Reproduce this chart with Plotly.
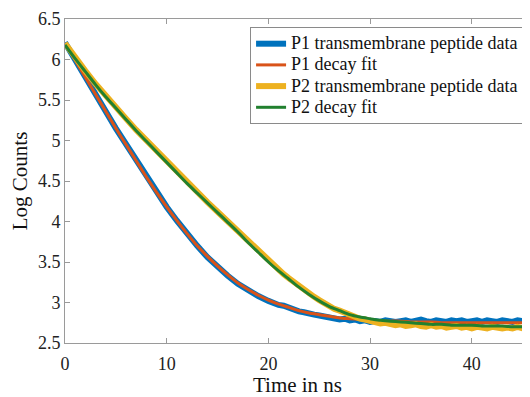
import plotly.graph_objects as go

# ---- data ----
fit_t = list(range(0, 47))
p1_fit = [6.20, 5.99, 5.78, 5.57, 5.36, 5.15, 4.95, 4.75, 4.55, 4.36,
          4.18, 4.01, 3.85, 3.70, 3.57, 3.45, 3.34, 3.24, 3.16, 3.09,
          3.03, 2.98, 2.94, 2.90, 2.87, 2.85, 2.83, 2.81, 2.80, 2.79,
          2.78, 2.77, 2.77, 2.77, 2.76, 2.76, 2.76, 2.75, 2.75, 2.75,
          2.75, 2.75, 2.75, 2.75, 2.75, 2.75, 2.75]
p2_fit = [6.18, 6.01, 5.85, 5.69, 5.54, 5.40, 5.26, 5.12, 4.99, 4.86,
          4.73, 4.60, 4.47, 4.35, 4.23, 4.11, 3.99, 3.87, 3.74, 3.62,
          3.50, 3.39, 3.29, 3.19, 3.10, 3.02, 2.95, 2.90, 2.85, 2.82,
          2.80, 2.78, 2.77, 2.76, 2.75, 2.74, 2.73, 2.73, 2.72, 2.72,
          2.72, 2.71, 2.71, 2.71, 2.70, 2.70, 2.70]

data_t = [0, 1, 2, 3, 4, 5, 6, 7, 8, 9, 10, 11, 12, 13, 14, 15, 16, 17, 18, 19, 20,
          20.5, 21, 21.5, 22, 22.5, 23, 23.5, 24, 24.5, 25, 25.5, 26, 26.5, 27, 27.5,
          28, 28.5, 29, 29.5, 30, 30.5, 31, 31.5, 32, 32.5, 33, 33.5, 34, 34.5, 35,
          35.5, 36, 36.5, 37, 37.5, 38, 38.5, 39, 39.5, 40, 40.5, 41, 41.5, 42, 42.5,
          43, 43.5, 44, 44.5, 45, 45.5, 46]
p1_data = [6.21, 5.99, 5.78, 5.57, 5.36, 5.15, 4.95, 4.75, 4.55, 4.36, 4.18,
           4.01, 3.85, 3.70, 3.56, 3.44, 3.33, 3.23, 3.15, 3.08, 3.02,
           2.99, 2.97, 2.96, 2.93, 2.92, 2.89, 2.88, 2.86, 2.85, 2.84, 2.83,
           2.81, 2.81, 2.79, 2.80, 2.78, 2.79, 2.77, 2.78, 2.76, 2.77, 2.76,
           2.78, 2.77, 2.76, 2.77, 2.78, 2.76, 2.77, 2.79, 2.77, 2.76, 2.78,
           2.77, 2.76, 2.78, 2.77, 2.78, 2.76, 2.77, 2.78, 2.76, 2.78, 2.77,
           2.76, 2.78, 2.77, 2.76, 2.78, 2.77, 2.76, 2.77]
p2_data = [6.20, 6.02, 5.86, 5.70, 5.55, 5.41, 5.27, 5.13, 5.00, 4.87, 4.74,
           4.61, 4.48, 4.36, 4.24, 4.12, 4.00, 3.88, 3.75, 3.63, 3.51,
           3.45, 3.40, 3.35, 3.30, 3.25, 3.20, 3.16, 3.11, 3.07, 3.03, 2.99,
           2.96, 2.92, 2.90, 2.87, 2.85, 2.83, 2.80, 2.79, 2.77, 2.76, 2.74,
           2.75, 2.73, 2.72, 2.73, 2.71, 2.72, 2.73, 2.71, 2.70, 2.72, 2.70,
           2.71, 2.69, 2.70, 2.71, 2.69, 2.70, 2.68, 2.70, 2.69, 2.68, 2.70,
           2.69, 2.68, 2.69, 2.68, 2.70, 2.68, 2.69, 2.68]

series_names = ["P1 transmembrane peptide data", "P1 decay fit",
                "P2 transmembrane peptide data", "P2 decay fit"]
x_tickvals = [0, 10, 20, 30, 40]
x_ticktext = ["0", "10", "20", "30", "40"]
y_tickvals = [2.5, 3, 3.5, 4, 4.5, 5, 5.5, 6, 6.5]
y_ticktext = ["2.5", "3", "3.5", "4", "4.5", "5", "5.5", "6", "6.5"]

# ---- styles ----
colors = ["#0072BD", "#D95319", "#EDB120", "#21802F"]
widths = [6, 3, 6, 3]
shapes = ["linear", "spline", "linear", "spline"]
FONT = "Liberation Serif, Times New Roman, serif"
AXC = "#9a9a9a"

fig = go.Figure()
xs = [data_t, fit_t, data_t, fit_t]
ys = [p1_data, p1_fit, p2_data, p2_fit]
for name, x, y, c, w, s in zip(series_names, xs, ys, colors, widths, shapes):
    fig.add_trace(go.Scatter(
        x=x, y=y, mode="lines",
        name='<span style="font-size:18px">' + name + '</span>',
        line=dict(color=c, width=w, shape=s, smoothing=0.6)))

# page body has an 8px default margin: figure is sized/offset to compensate
fig.update_layout(
    width=522, height=389,
    margin=dict(l=57, r=0, t=11, b=52),
    paper_bgcolor="white", plot_bgcolor="white",
    font=dict(family=FONT, color="#222222", size=18),
    showlegend=True,
    legend=dict(x=0.398, y=0.975, xanchor="left", yanchor="top",
                bgcolor="white", bordercolor="#8a8a8a", borderwidth=1,
                font=dict(family=FONT, size=14, color="#111111"),
                tracegroupgap=0, itemwidth=30),
    xaxis=dict(range=[0, 45.72], tickvals=x_tickvals, ticktext=x_ticktext,
               showgrid=False, zeroline=False, showline=True, linecolor=AXC,
               linewidth=1, mirror="ticks", ticks="inside", ticklen=5,
               tickcolor=AXC, tickfont=dict(size=18, color="#222222"),
               ticklabelstandoff=4,
               title=dict(text="Time in ns", font=dict(size=21, color="#111111"),
                          standoff=9)),
    yaxis=dict(range=[2.5, 6.5], tickvals=y_tickvals, ticktext=y_ticktext,
               showgrid=False, zeroline=False, showline=True, linecolor=AXC,
               linewidth=1, ticks="inside", ticklen=5, tickcolor=AXC,
               tickfont=dict(size=18, color="#222222"),
               title=dict(text="Log Counts", font=dict(size=21, color="#111111"),
                          standoff=6)),
    yaxis2=dict(range=[2.5, 6.5], tickvals=y_tickvals, overlaying="y", side="right",
                showgrid=False, zeroline=False, showline=False, ticks="inside",
                ticklen=5, tickcolor=AXC, showticklabels=False),
)

fig.write_html("out.html")
